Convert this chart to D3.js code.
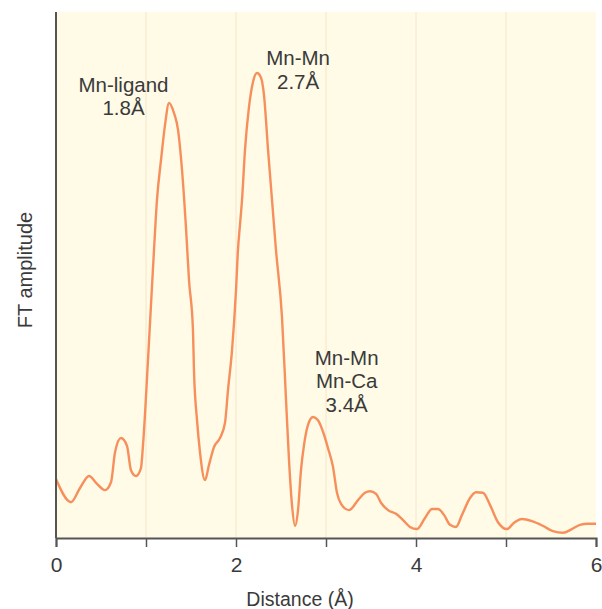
<!DOCTYPE html>
<html><head><meta charset="utf-8">
<script src="https://cdn.jsdelivr.net/npm/d3@7"></script>
<style>body{margin:0;background:#fff}text{font-family:"Liberation Sans",Arial,sans-serif;fill:#3a3a3a}</style>
</head><body><svg id="c" width="602" height="609"></svg>
<script>
const distance = [0,0.167,0.267,0.367,0.456,0.544,0.611,0.656,0.722,0.789,0.833,0.889,0.944,0.967,1.022,1.089,1.122,1.167,1.211,1.256,1.311,1.356,1.4,1.444,1.478,1.522,1.533,1.567,1.6,1.656,1.7,1.756,1.822,1.878,1.911,1.956,2.0,2.022,2.044,2.067,2.1,2.144,2.189,2.233,2.278,2.311,2.356,2.4,2.444,2.511,2.556,2.589,2.622,2.656,2.689,2.722,2.756,2.8,2.856,2.911,2.967,3.022,3.078,3.122,3.167,3.256,3.356,3.433,3.489,3.556,3.611,3.689,3.778,3.856,3.933,4.011,4.1,4.178,4.244,4.311,4.378,4.444,4.511,4.6,4.667,4.744,4.822,4.911,5.011,5.089,5.178,5.289,5.411,5.522,5.633,5.733,5.822,5.911,6.0];
const amplitude = [11.2,6.8,9.5,11.8,10.3,9.1,10.6,16.3,19.0,17.5,12.9,11.8,13.3,17.7,33.8,54.8,64.3,71.9,78.5,82.7,80.8,77.6,70.0,59.1,49.0,39.5,31.9,22.4,16.3,11.0,13.9,17.3,19.0,21.9,28.1,35.7,47.1,54.8,59.5,64.3,73.8,81.9,86.7,88.4,87.5,84.2,73.8,64.3,54.8,42.0,26.2,14.8,6.3,2.3,5.3,12.9,17.7,21.5,23.0,22.4,20.2,17.1,13.5,8.6,6.5,5.3,7.2,8.6,8.9,8.4,6.7,5.3,4.6,3.4,2.1,1.7,3.8,5.5,5.5,4.4,2.5,2.1,4.4,7.6,8.7,8.6,6.3,3.0,1.7,2.9,3.6,3.2,2.3,1.3,1.0,1.7,2.5,2.7,2.7];
const xTicks = [0,2,4,6];
const gridX = [1,2,3,4,5];
const annotations = [
  {x:0.75, y:84.8, lines:["Mn-ligand","1.8Å"]},
  {x:2.69, y:89.9, lines:["Mn-Mn","2.7Å"]},
  {x:3.23, y:32.9, lines:["Mn-Mn","Mn-Ca","3.4Å"]}
];
const xLabel = "Distance (Å)", yLabel = "FT amplitude";

const svg = d3.select("#c");
const x = d3.scaleLinear().domain([0,6]).range([56,596]);
const y = d3.scaleLinear().domain([0,100]).range([538,12]);

svg.append("rect").attr("x",56).attr("y",12).attr("width",540).attr("height",526).attr("fill","#fffbe6");
svg.selectAll(".g").data(gridX).enter().append("line")
  .attr("x1",d=>x(d)).attr("x2",d=>x(d)).attr("y1",12).attr("y2",538)
  .attr("stroke","#f6e6cc").attr("stroke-width",1);

const line = d3.line().x((d,i)=>x(distance[i])).y(d=>y(d)).curve(d3.curveMonotoneX);
svg.append("path").datum(amplitude).attr("d",line).attr("fill","none")
  .attr("stroke","#f78f5c").attr("stroke-width",2.4).attr("stroke-linejoin","round");

const xa = svg.append("g").attr("transform","translate(0,538)")
  .call(d3.axisBottom(x).tickValues(d3.range(0,7)).tickSize(9).tickFormat(d=>xTicks.includes(d)?d:""));
xa.select(".domain").attr("stroke","#555").attr("stroke-width",2);
xa.selectAll(".tick line").attr("stroke","#555").attr("stroke-width",1.5);
xa.selectAll(".tick text").attr("font-size",21).attr("dy","22px").style("fill","#3a3a3a")
  .attr("font-family","'Liberation Sans',Arial,sans-serif");

svg.append("line").attr("x1",56).attr("x2",56).attr("y1",12).attr("y2",538).attr("stroke","#555").attr("stroke-width",2);

svg.append("text").attr("x",300).attr("y",606).attr("text-anchor","middle").attr("font-size",19.5).text(xLabel);
svg.append("text").attr("transform","translate(32,270) rotate(-90)").attr("text-anchor","middle").attr("font-size",20).text(yLabel);

annotations.forEach(a=>{
  const t = svg.append("text").attr("text-anchor","middle").attr("font-size",20.5);
  a.lines.forEach((l,i)=>t.append("tspan").attr("x",x(a.x)).attr("y",y(a.y)+i*23.5).text(l));
});
</script></body></html>
